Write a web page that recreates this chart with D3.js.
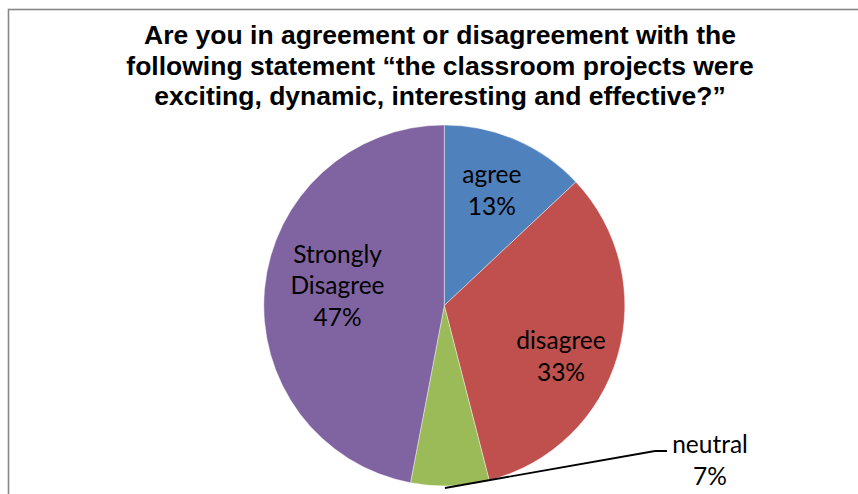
<!DOCTYPE html>
<html>
<head>
<meta charset="utf-8">
<script src="https://cdn.jsdelivr.net/npm/d3@7"></script>
<style>
  html, body { margin: 0; padding: 0; background: #fff; }
  svg { display: block; }
</style>
</head>
<body>
<svg id="chart" width="858" height="494"></svg>
<script>
// Survey answers (percent of respondents)
const categories = ["agree", "disagree", "neutral", "Strongly Disagree"];
const values = [13, 33, 7, 47];
const valueLabels = ["13%", "33%", "7%", "47%"];
const colors = ["#4F81BD", "#C0504D", "#9BBB59", "#8064A2"];
const titleLines = [
  "Are you in agreement or disagreement with the",
  "following statement \u201cthe classroom projects were",
  "exciting, dynamic, interesting and effective?\u201d"
];

const W = 858, H = 494;
const cx = 444.3, cy = 305.5, R = 180.5;
const labelFont = "Lato, 'Open Sans', sans-serif";
const labelSize = 24.5;

const svg = d3.select("#chart");

// chart area frame
svg.append("rect")
  .attr("x", 8.5).attr("y", 9.5)
  .attr("width", 860).attr("height", 500)
  .attr("fill", "#fff")
  .attr("stroke", "#888").attr("stroke-width", 1.6);

// title
svg.append("text")
  .attr("text-anchor", "middle")
  .attr("font-family", "'Liberation Sans', Arial, sans-serif")
  .attr("font-weight", "bold")
  .attr("font-size", 26.5)
  .attr("fill", "#000")
  .selectAll("tspan")
  .data(titleLines)
  .join("tspan")
  .attr("x", 440)
  .attr("y", (d, i) => 44 + i * 30.5)
  .text(d => d);

const rows = categories.map((c, i) => ({ cat: c, value: values[i], label: valueLabels[i], color: colors[i] }));

const pie = d3.pie().value(d => d.value).sort(null);
const arcs = pie(rows);
const arc = d3.arc().innerRadius(0).outerRadius(R);
const labelArc = d3.arc().innerRadius(R * 0.65).outerRadius(R * 0.65);

const g = svg.append("g").attr("transform", `translate(${cx},${cy})`);

g.selectAll("path.slice")
  .data(arcs)
  .join("path")
  .attr("class", "slice")
  .attr("d", arc)
  .attr("fill", d => d.data.color)
  .attr("stroke", "#fff")
  .attr("stroke-width", 0.4);

// label placement tweaks (pixels, relative to the label-arc centroid)
const nudge = {
  "agree": [1, -7],
  "disagree": [4, 19],
  "Strongly Disagree": [10, -8]
};
const lineH = 31.5;

arcs.filter(d => d.data.cat !== "neutral").forEach(d => {
  const [lx, ly] = labelArc.centroid(d);
  const [nx, ny] = nudge[d.data.cat];
  const words = d.data.cat === "Strongly Disagree" ? ["Strongly", "Disagree"] : [d.data.cat];
  const lines = words.concat([d.data.label]);
  const x = lx + nx, yc = ly + ny;
  const first = yc - (lines.length - 1) * lineH / 2 + 8;
  g.append("text")
    .attr("text-anchor", "middle")
    .attr("font-family", labelFont)
    .attr("font-size", labelSize)
    .attr("fill", "#000")
    .selectAll("tspan")
    .data(lines)
    .join("tspan")
    .attr("x", x)
    .attr("y", (t, i) => first + i * lineH)
    .text(t => t);
});

// neutral slice: outside label with leader line
const neutral = arcs.find(d => d.data.cat === "neutral");
const mid = (neutral.startAngle + neutral.endAngle) / 2 + 0.028;
const p0 = [Math.sin(mid) * (R + 2), -Math.cos(mid) * (R + 2)];
const p1 = [655 - cx, 451 - cy];
const p2 = [667 - cx, 451 - cy];
g.append("path")
  .attr("d", d3.line()([p0, p1, p2]))
  .attr("fill", "none")
  .attr("stroke", "#000")
  .attr("stroke-width", 1.8);

g.append("text")
  .attr("text-anchor", "middle")
  .attr("font-family", labelFont)
  .attr("font-size", labelSize)
  .attr("fill", "#000")
  .selectAll("tspan")
  .data([neutral.data.cat, neutral.data.label])
  .join("tspan")
  .attr("x", 710 - cx)
  .attr("y", (t, i) => 453 - cy + i * 32)
  .text(t => t);
</script>
</body>
</html>
